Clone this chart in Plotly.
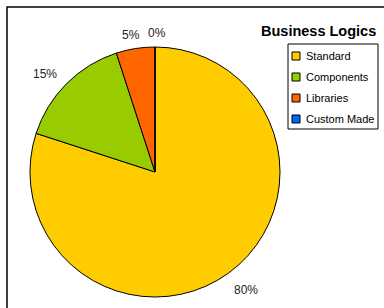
import math
import plotly.graph_objects as go

labels = ["Standard", "Components", "Libraries", "Custom Made"]
values = [80, 15, 5, 0]
colors = ["#FFCC00", "#99CC00", "#FF6600", "#0066FF"]
title = "Business Logics"

W, H = 384, 308
FONT = "Liberation Sans, Arial, sans-serif"

# pie geometry (pixels)
cx, cy, r = 155, 172, 125

def px(x):
    return x / W

def py(y):
    return 1 - y / H

fig = go.Figure(go.Pie(
    labels=labels, values=values, sort=False, direction="clockwise", rotation=0,
    marker=dict(colors=colors, line=dict(color="#000000", width=1)),
    textinfo="none", hoverinfo="label+percent",
    domain=dict(x=[px(cx - r), px(cx + r)], y=[py(cy + r), py(cy - r)]),
    showlegend=False,
))

annotations = []
# percentage labels around the pie, from the values
total = sum(values)
cum = 0
for v in values:
    frac = v / total
    mid = (cum + frac / 2) * 2 * math.pi
    cum += frac
    s, c = math.sin(mid), math.cos(mid)
    g = 8
    hw = 22
    hh = 6 if c >= 0 else 13
    tx = cx + (r + g) * s + hw * s
    ty = cy - (r + g) * c - hh * c
    if v == 0:
        tx += 2
    annotations.append(dict(text=f"{round(frac * 100)}%", x=px(tx), y=py(ty),
                            xref="paper", yref="paper", xanchor="center", yanchor="middle",
                            showarrow=False, font=dict(size=12, family=FONT, color="#222222")))

annotations.append(dict(text="<b>" + title + "</b>", x=px(318), y=py(31), xref="paper", yref="paper",
                        xanchor="center", yanchor="middle", showarrow=False,
                        font=dict(size=14.5, family=FONT, color="#000000")))

shapes = [dict(type="rect", xref="paper", yref="paper", x0=px(7), x1=1.1, y0=-0.1, y1=py(7),
               line=dict(color="#000000", width=1.5))]

# legend box
lx0, ly0, lx1, ly1 = 288, 44, 378, 129
shapes.append(dict(type="rect", xref="paper", yref="paper", x0=px(lx0), x1=px(lx1),
                   y0=py(ly1), y1=py(ly0), line=dict(color="#000000", width=1), fillcolor="white"))
for i, (lab, col) in enumerate(zip(labels, colors)):
    yc = 56 + 21 * i
    shapes.append(dict(type="rect", xref="paper", yref="paper", x0=px(292), x1=px(300),
                       y0=py(yc + 4), y1=py(yc - 4), line=dict(color="#000000", width=1), fillcolor=col))
    annotations.append(dict(text=lab, x=px(304), y=py(yc), xref="paper", yref="paper",
                            xanchor="left", yanchor="middle", showarrow=False,
                            font=dict(size=11, family=FONT, color="#000000")))

fig.update_layout(
    width=W, height=H, margin=dict(l=0, r=0, t=0, b=0),
    paper_bgcolor="white", plot_bgcolor="white",
    font=dict(family=FONT, size=11, color="#000000"),
    annotations=annotations, shapes=shapes,
)
fig.write_html("out.html", config={"displayModeBar": False},
               post_script="document.body.style.margin='0';")
